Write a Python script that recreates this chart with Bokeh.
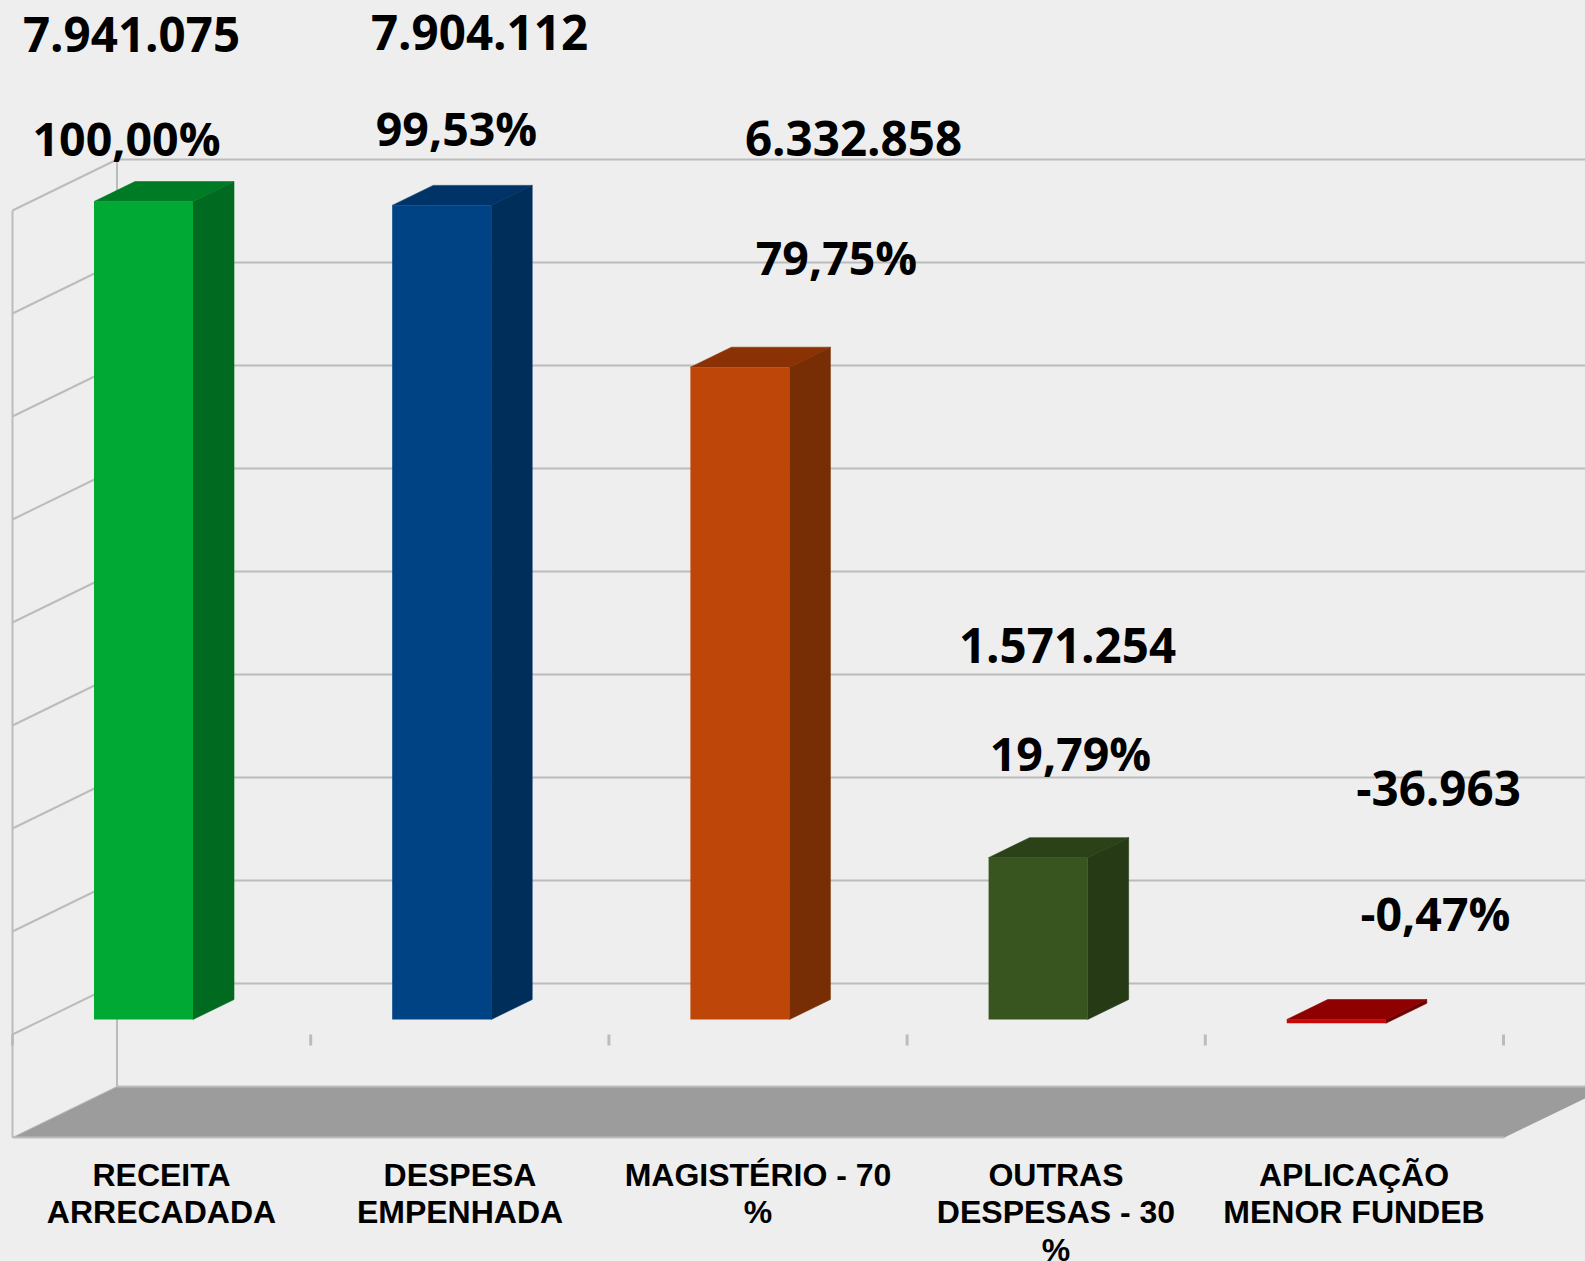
from bokeh.plotting import figure
from bokeh.embed import file_html
from bokeh.resources import INLINE
from bokeh.core.properties import value
from bokeh.models import Range1d

# ---- data ----
categories = ["RECEITA ARRECADADA", "DESPESA EMPENHADA", "MAGISTÉRIO - 70 %",
              "OUTRAS DESPESAS - 30 %", "APLICAÇÃO MENOR FUNDEB"]
category_lines = [["RECEITA", "ARRECADADA"], ["DESPESA", "EMPENHADA"], ["MAGISTÉRIO - 70", "%"],
                  ["OUTRAS", "DESPESAS - 30", "%"], ["APLICAÇÃO", "MENOR FUNDEB"]]
amounts = [7941075, 7904112, 6332858, 1571254, -36963]
amount_labels = ["7.941.075", "7.904.112", "6.332.858", "1.571.254", "-36.963"]
percent_labels = ["100,00%", "99,53%", "79,75%", "19,79%", "-0,47%"]
grid_values = [8e6, 7e6, 6e6, 5e6, 4e6, 3e6, 2e6, 1e6, 0]

# ---- styles ----
front_colors = ["#00A933", "#004385", "#BF4609", "#38551F", "#C80808"]
top_colors = ["#007B25", "#003468", "#8A3205", "#2B4117", "#8F0000"]
side_colors = ["#006B20", "#002E5A", "#782E04", "#263A16", "#6E0000"]
BG, GRID, FLOOR = "#EEEEEE", "#BCBCBC", "#9C9C9C"

# ---- geometry (page pixels) ----
W, H = 1585, 1261
BAR0_X, STEP_X, BAR_W = 143.0, 298.2, 99.0
ZERO_Y, PX_PER_UNIT = 1019.0, 103e-6
DEPTH_X, DEPTH_Y = 41.0, 20.0
WALL_X0, WALL_X1 = 12.0, 116.5
WALL_ZERO_FRONT, WALL_ZERO_BACK = 1034.0, 983.0
FLOOR_RIGHT_FRONT, FLOOR_RIGHT_BACK = 1504.0, 1609.0
# Bokeh's alphabetic text anchor sits above the true baseline by this many px
AMOUNT_NUDGE, CAT_NUDGE = 18.5, 11.5


def fx(px):
    return (px - BAR0_X) / STEP_X


def fy(py):
    return (ZERO_Y - py) / PX_PER_UNIT


p = figure(width=W, height=H, output_backend="svg", toolbar_location=None,
           x_range=Range1d(fx(0), fx(W)), y_range=Range1d(fy(H), fy(0)),
           min_border=0, background_fill_color=BG, border_fill_color=BG,
           outline_line_color=None, x_axis_type="linear")
p.axis.visible = False
p.grid.visible = False
p.styles = {"position": "fixed", "left": "0", "top": "0", "background-color": BG}


def gy_back(v):
    return WALL_ZERO_BACK - v * PX_PER_UNIT


def gy_front(v):
    return WALL_ZERO_FRONT - v * PX_PER_UNIT


floor_v = -1e6
# floor
p.patch([fx(WALL_X0), fx(FLOOR_RIGHT_FRONT), fx(FLOOR_RIGHT_BACK), fx(WALL_X1)],
        [fy(gy_front(floor_v)), fy(gy_front(floor_v)), fy(gy_back(floor_v)), fy(gy_back(floor_v))],
        fill_color=FLOOR, line_color=None)
# back wall and side wall lines
for v in grid_values:
    p.line([fx(WALL_X0), fx(WALL_X1), fx(FLOOR_RIGHT_BACK)],
           [fy(gy_front(v)), fy(gy_back(v)), fy(gy_back(v))], line_color=GRID, line_width=2)
p.line([fx(WALL_X1), fx(FLOOR_RIGHT_BACK)], [fy(gy_back(floor_v))] * 2, line_color=GRID, line_width=2)
p.line([fx(WALL_X0), fx(FLOOR_RIGHT_FRONT)], [fy(gy_front(floor_v))] * 2, line_color=GRID, line_width=2)
p.line([fx(WALL_X1)] * 2, [fy(gy_back(8e6)), fy(gy_back(floor_v))], line_color=GRID, line_width=2)
p.line([fx(WALL_X0)] * 2, [fy(gy_front(8e6)), fy(gy_front(floor_v))], line_color=GRID, line_width=2)
p.line([fx(WALL_X0), fx(WALL_X1)], [fy(gy_front(floor_v)), fy(gy_back(floor_v))], line_color=GRID, line_width=1)
# category ticks
for k in range(len(categories) + 1):
    tx = fx(WALL_X0 + STEP_X * k)
    p.line([tx, tx], [fy(WALL_ZERO_FRONT), fy(WALL_ZERO_FRONT + 11)], line_color=GRID, line_width=3)

# bars
dx = DEPTH_X / STEP_X
dy = DEPTH_Y / PX_PER_UNIT
half = BAR_W / 2 / STEP_X
for i, v in enumerate(amounts):
    l, r = i - half, i + half
    t, b = max(v, 0), min(v, 0)
    p.patch([r, r + dx, r + dx, r], [b, b + dy, t + dy, t], fill_color=side_colors[i],
            line_color=side_colors[i], line_width=0.6)
    p.patch([l, r, r + dx, l + dx], [t, t, t + dy, t + dy], fill_color=top_colors[i],
            line_color=top_colors[i], line_width=0.6)
    p.quad(left=[l], right=[r], top=[t], bottom=[b], fill_color=front_colors[i], line_color=None)

# value labels (centre x, baseline y in page pixels)
amount_pos = [(131, 52), (479, 50), (853, 156), (1067, 663), (1438, 806)]
percent_pos = [(126, 156), (456, 146), (836, 275), (1070, 771), (1435, 931)]
for labels, pos, size in ((amount_labels, amount_pos, "47.5px"), (percent_labels, percent_pos, "46.5px")):
    p.text([fx(a) for a, _ in pos], [fy(b - AMOUNT_NUDGE) for _, b in pos], text=labels,
           text_font=value("Open Sans"), text_font_style="bold", text_font_size=size,
           text_color="#000000", text_align="center", text_baseline="alphabetic")

# category labels
label_x = [161, 459.5, 757.5, 1055.5, 1353.5]
label_y = [1186, 1223, 1260.5]
for cx, lines in zip(label_x, category_lines):
    p.text([fx(cx)] * len(lines), [fy(label_y[j] - CAT_NUDGE) for j in range(len(lines))], text=lines,
           text_font=value("Liberation Sans"), text_font_style="bold", text_font_size="32px",
           text_color="#000000", text_align="center", text_baseline="alphabetic")

open("out.html", "w").write(file_html(p, INLINE))
